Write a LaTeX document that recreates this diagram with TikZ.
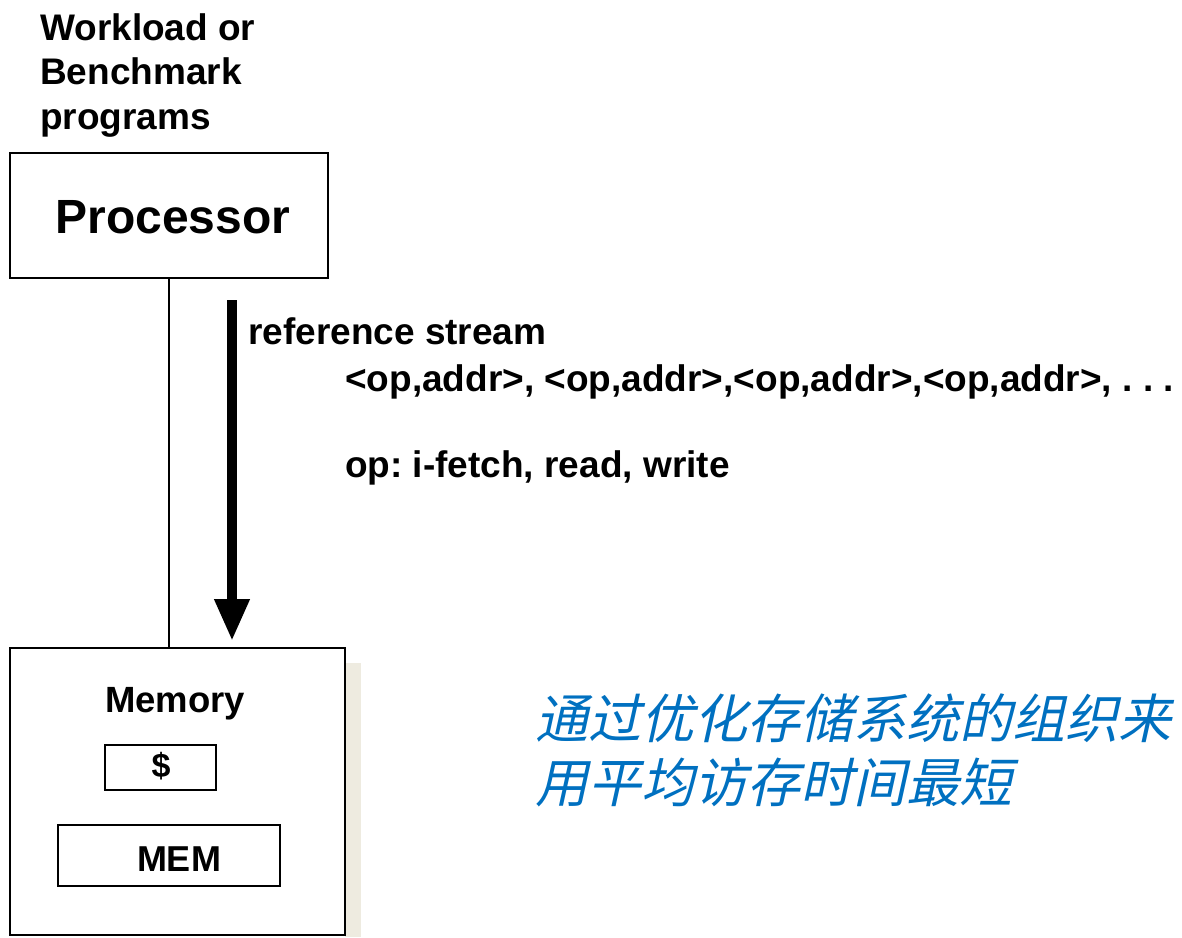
\documentclass[tikz,border=0pt]{standalone}
\usepackage{fontspec}
\setmainfont{Liberation Sans}
\newfontfamily\cjk[FakeSlant=0.22]{Noto Sans CJK SC}
\usetikzlibrary{arrows.meta}
\definecolor{noteblue}{RGB}{0,112,192}
\definecolor{shadowbeige}{RGB}{238,235,224}
\frenchspacing
\begin{document}
\begin{tikzpicture}[x=1pt,y=-1pt,
  box/.style={draw=black,line width=2pt,fill=white,inner sep=0pt},
  label/.style={font=\fontsize{37}{44}\selectfont\bfseries,anchor=base west,inner sep=0pt}]
\useasboundingbox (0,0) rectangle (1182,937);
% memory box shadow
\fill[shadowbeige] (345,663) rectangle (361,937);
% processor and memory
\node[box,minimum width=318pt,minimum height=125pt] (proc) at (169,215.5) {};
\node[anchor=base,inner sep=0pt,font=\fontsize{48}{56}\selectfont\bfseries] (proctext) at (173,233) {Processor};
\node[box,minimum width=335pt,minimum height=287pt] (mem) at (177.5,791.5) {};
\node[anchor=base,inner sep=0pt,font=\fontsize{36.5}{42}\selectfont\bfseries] (memtext) at (175,712) {Memory};
\node[box,minimum width=111pt,minimum height=45pt] (cache) at (160.5,767.5) {};
\node[anchor=base,inner sep=0pt,font=\fontsize{34}{40}\selectfont\bfseries] (cachetext) at (161,777) {\$};
\node[box,minimum width=222pt,minimum height=61pt] (mainmem) at (169,855.5) {};
\node[anchor=base,inner sep=0pt,font=\fontsize{36}{42}\selectfont\bfseries] (mainmemtext) at (179,871) {MEM};
% workload title (base anchor sits on the last line)
\node[label,align=left,font=\fontsize{37}{44.5}\selectfont\bfseries] (work) at (40,129) {Workload or\\Benchmark\\programs};
% connection and reference stream arrow
\draw[line width=2pt] (proc.south) -- (proc.south |- mem.north);
\coordinate (streamtop) at (232,300);
\coordinate (streamend) at (232,641);
\draw[line width=10pt,-{Triangle[width=33pt,length=42pt]}] (streamtop) -- (streamend);
% reference stream description
\node[label] (refs) at (248,344) {reference stream};
\node[label] (pairs) at (345,391) {<op,addr>, <op,addr>,<op,addr>,<op,addr>, . . .};
\node[label] (ops) at (345,477) {op: i-fetch, read, write};
% note
\node[anchor=base west,inner sep=0pt,align=left,text=noteblue,font=\cjk\fontsize{53}{64}\selectfont] (note) at (535,802) {通过优化存储系统的组织来\\用平均访存时间最短};
\end{tikzpicture}
\end{document}
